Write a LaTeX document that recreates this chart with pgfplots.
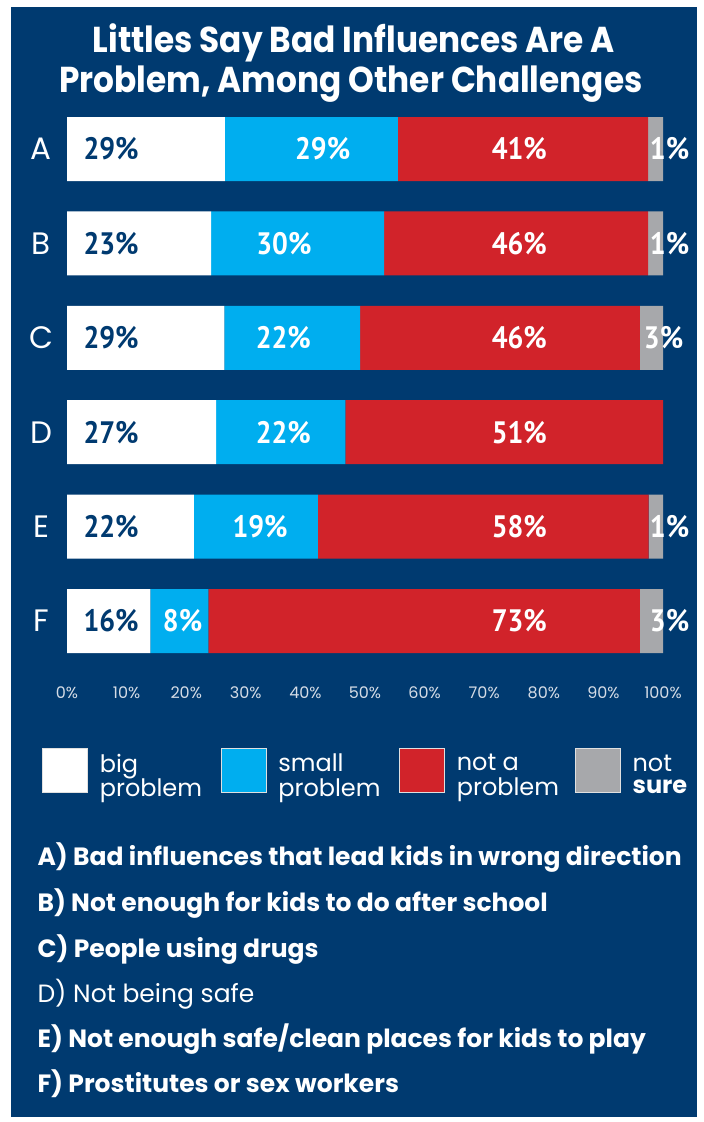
\documentclass[border=0pt]{standalone}
\usepackage{fontspec}
\setmainfont{Poppins}
\newfontfamily\titlefont[FakeStretch=0.91]{Poppins}
\newfontfamily\listfont[FakeStretch=1.0]{Poppins}
\newfontfamily\labfont[FakeStretch=0.9]{PT Sans}
\usepackage{pgfplots}
\pgfplotsset{compat=1.18}
\definecolor{navyc}{HTML}{003A70}
\definecolor{bluec}{HTML}{00AEEF}
\definecolor{redc}{HTML}{D1232A}
\definecolor{grayc}{HTML}{A7A8AB}
\definecolor{tickc}{HTML}{D5DCE6}
\pgfplotsset{legsq/.style={legend image code/.code={\draw[fill=#1,draw=black!12,line width=0.8pt] (0pt,-22pt) rectangle (45pt,22pt);}}}
\begin{document}
\begin{tikzpicture}
\fill[white] (0pt,0pt) rectangle (704pt,-1122pt);
\fill[navyc] (11pt,-7pt) rectangle (697pt,-1117pt);
\node[font=\titlefont\bfseries\fontsize{36}{40}\selectfont, text=white, anchor=base] at (354pt,-52pt) {Littles Say Bad Influences Are A};
\node[font=\titlefont\bfseries\fontsize{36}{40}\selectfont, text=white, anchor=base] at (351pt,-92pt) {Problem, Among Other Challenges};

\begin{axis}[
  at={(67pt,-668.2pt)}, anchor=south west,
  scale only axis, width=596pt, height=566.4pt,
  xbar stacked, bar width=64pt,
  xmin=0, xmax=100, ymin=0.5, ymax=6.5,
  axis line style={draw=none}, tick style={draw=none}, major tick length=0pt,
  xtick={0,10,...,100},
  xticklabels={0\%,10\%,20\%,30\%,40\%,50\%,60\%,70\%,80\%,90\%,100\%},
  xticklabel style={font=\fontsize{16}{16}\selectfont, text=tickc, anchor=center, yshift=-24.3pt},
  ytick={1,2,3,4,5,6}, yticklabels={F,E,D,C,B,A},
  yticklabel style={font=\fontsize{31}{31}\selectfont, text=white, anchor=center, xshift=-26pt},
  legend columns=4, legend cell align=left,
  legend style={at={(-0.0419,-0.1797)}, anchor=west, draw=none, fill=none,
    inner sep=0pt, outer sep=0pt, font=\fontsize{24}{22}\selectfont, text=white,
    nodes={inner sep=0pt},
    /tikz/every odd column/.style={column sep=12pt},
    /tikz/every even column/.style={column sep=0pt}},
]
\addplot[fill=white, draw=none, legsq=white] coordinates {(26.5,6) (24.2,5) (26.4,4) (25.0,3) (21.3,2) (14.0,1)};
\addlegendentry{\makebox[120.7pt][l]{\begin{tabular}{@{}l@{}}big\\problem\end{tabular}}}
\addplot[fill=bluec, draw=none, legsq=bluec] coordinates {(29.0,6) (29.0,5) (22.8,4) (21.7,3) (20.8,2) (9.7,1)};
\addlegendentry{\makebox[120.7pt][l]{\begin{tabular}{@{}l@{}}small\\problem\end{tabular}}}
\addplot[fill=redc, draw=none, legsq=redc] coordinates {(42.0,6) (44.3,5) (46.9,4) (53.3,3) (55.5,2) (72.4,1)};
\addlegendentry{\makebox[118pt][l]{\begin{tabular}{@{}l@{}}not a\\problem\end{tabular}}}
\addplot[fill=grayc, draw=none, legsq=grayc] coordinates {(2.5,6) (2.5,5) (3.9,4) (0,3) (2.4,2) (3.9,1)};
\addlegendentry{\begin{tabular}{@{}l@{}}not\\\bfseries sure\end{tabular}}
\end{axis}

\begin{axis}[
  at={(67pt,-668.2pt)}, anchor=south west,
  scale only axis, width=596pt, height=566.4pt,
  xmin=0, xmax=100, ymin=0.5, ymax=6.5,
  hide axis, clip=false,
  nodes near coords={\pgfplotspointmeta\%},
  point meta=explicit symbolic,
  every node near coord/.append style={anchor=center, font=\labfont\bfseries\fontsize{31}{31}\selectfont},
]
\addplot[draw=none, mark=none, every node near coord/.append style={text=navyc}] coordinates {(7.4,6)[29] (7.4,5)[23] (7.4,4)[29] (7.4,3)[27] (7.4,2)[22] (7.4,1)[16]};
\addplot[draw=none, mark=none, every node near coord/.append style={text=white}] coordinates {(42.9,6)[29] (36.4,5)[30] (36.3,4)[22] (36.3,3)[22] (32.4,2)[19] (19.4,1)[8]};
\addplot[draw=none, mark=none, every node near coord/.append style={text=white}] coordinates {(75.9,6)[41] (75.9,5)[46] (75.9,4)[46] (75.9,3)[51] (75.9,2)[58] (75.9,1)[73]};
\addplot[draw=none, mark=none, every node near coord/.append style={text=white}] coordinates {(101.1,6)[1] (101.1,5)[1] (100.1,4)[3] (101.1,2)[1] (101.1,1)[3]};
\end{axis}

\begin{scope}[every node/.style={anchor=base west, text=white, font=\listfont\fontsize{25}{25}\selectfont}]
\node at (34pt,-865pt) {\bfseries A) Bad influences that lead kids in wrong direction};
\node at (34pt,-911pt) {\bfseries B) Not enough for kids to do after school};
\node at (34pt,-957pt) {\bfseries C) People using drugs};
\node at (34pt,-1002pt) {D) Not being safe};
\node at (34pt,-1047pt) {\bfseries E) Not enough safe/clean places for kids to play};
\node at (34pt,-1092pt) {\bfseries F) Prostitutes or sex workers};
\end{scope}
\end{tikzpicture}
\end{document}
